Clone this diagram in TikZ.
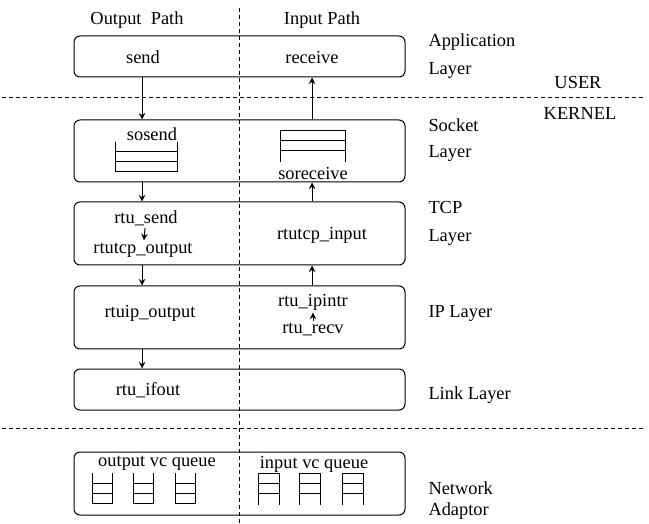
\documentclass[tikz,border=0pt]{standalone}
\usepackage{fontspec}
\setmainfont{Liberation Serif}
\usepackage{tikz}

\tikzset{
  layerbox/.style={draw, rounded corners=3pt, inner sep=0pt, minimum width=165.5pt},
  lbl/.style={inner sep=1pt},
  side/.style={inner sep=0pt, anchor=west},
  sep/.style={dash pattern=on 2pt off 1.5pt}
}

\begin{document}
\begin{tikzpicture}[x=0.5pt, y=-0.5pt, >=stealth, line width=0.5pt,
    font=\fontsize{9.2}{11}\selectfont]
\useasboundingbox (0, 0) rectangle (649, 524);
\coordinate (outcol) at (142, 0);
\coordinate (incol) at (312, 0);
% layer boxes
\node [layerbox, minimum height=20.5pt] (app)  at (239.5, 56.5) {};
\node [layerbox, minimum height=31pt]   (sock) at (239.5, 151) {};
\node [layerbox, minimum height=31.5pt] (tcp)  at (239.5, 233.5) {};
\node [layerbox, minimum height=31.5pt] (ip)   at (239.5, 317.5) {};
\node [layerbox, minimum height=20.5pt] (link) at (239.5, 389.5) {};
\node [layerbox, minimum height=31.5pt] (nic)  at (239.5, 483.5) {};
% separators
\draw [sep] (239, 8) -- (239, 524);
\draw [sep] (2, 98) -- (645, 98) (2, 428) -- (645, 428);
% column heads and routines
\node [lbl] (outhead)   at (137, 20)  {Output\ \ Path};
\node [lbl] (inhead)    at (322, 20)  {Input Path};
\node [lbl] (send)      at (143, 57)  {send};
\node [lbl] (receive)   at (312, 57)  {receive};
\node [lbl] (sosend)    at (152, 134) {sosend};
\node [lbl] (soreceive) at (313, 173) {soreceive};
\node [lbl] (rtusend)   at (146, 218) {rtu\_send};
\node [lbl] (rtutcpout) at (143, 250) {rtutcp\_output};
\node [lbl] (rtutcpin)  at (322, 235) {rtutcp\_input};
\node [lbl] (rtuipout)  at (150, 313) {rtuip\_output};
\node [lbl] (rtuipintr) at (313, 302) {rtu\_ipintr};
\node [lbl] (rturecv)   at (313, 330) {rtu\_recv};
\node [lbl] (rtuifout)  at (148, 390) {rtu\_ifout};
\node [lbl] (outq)      at (157, 463) {output vc queue};
\node [lbl] (inq)       at (314, 464) {input vc queue};
% socket buffers
\draw (115, 142) -- (115, 172) -- (177, 172) -- (177, 142)
  (115, 152) -- (177, 152) (115, 162) -- (177, 162);
\draw (280, 162) -- (280, 131) -- (345, 131) -- (345, 162)
  (280, 141) -- (345, 141) (280, 151) -- (345, 151);
% vc queues
\foreach \qx in {92, 133, 175}
  \draw (\qx, 473) -- (\qx, 503) -- (\qx+20, 503) -- (\qx+20, 473)
    (\qx, 483) -- (\qx+20, 483) (\qx, 493) -- (\qx+20, 493);
\foreach \qx in {258, 299, 342}
  \draw (\qx, 505) -- (\qx, 473) -- (\qx+21, 473) -- (\qx+21, 505)
    (\qx, 483) -- (\qx+21, 483) (\qx, 493) -- (\qx+21, 493);
% data flow
\draw [->] (app.south -| outcol)  -- (sock.north -| outcol);
\draw [->] (sock.south -| outcol) -- (tcp.north -| outcol);
\draw [->] (tcp.south -| outcol)  -- (ip.north -| outcol);
\draw [->] (ip.south -| outcol)   -- (link.north -| outcol);
\draw [->] (ip.north -| incol)    -- (tcp.south -| incol);
\draw [->] (tcp.north -| incol)   -- (sock.south -| incol);
\draw [->] (sock.north -| incol)  -- (app.south -| incol);
\draw [->] (rtusend) -- (rtutcpout);
\draw [->] (rturecv) -- (rtuipintr);
% layer names
\node [side] (appl)  at (428, 42)  {Application};
\node [side] (appl2) at (428, 70)  {Layer};
\node [lbl]  (user)  at (578, 83)  {USER};
\node [lbl]  (kern)  at (580, 113) {KERNEL};
\node [side] (sockl) at (428, 125) {Socket};
\node [side] (sockl2) at (428, 153) {Layer};
\node [side] (tcpl)  at (428, 208) {TCP};
\node [side] (tcpl2) at (428, 237) {Layer};
\node [side] (ipl)   at (428, 313) {IP Layer};
\node [side] (linkl) at (428, 395) {Link Layer};
\node [side] (nicl)  at (428, 488) {Network};
\node [side] (nicl2) at (428, 511) {Adaptor};
\end{tikzpicture}
\end{document}
